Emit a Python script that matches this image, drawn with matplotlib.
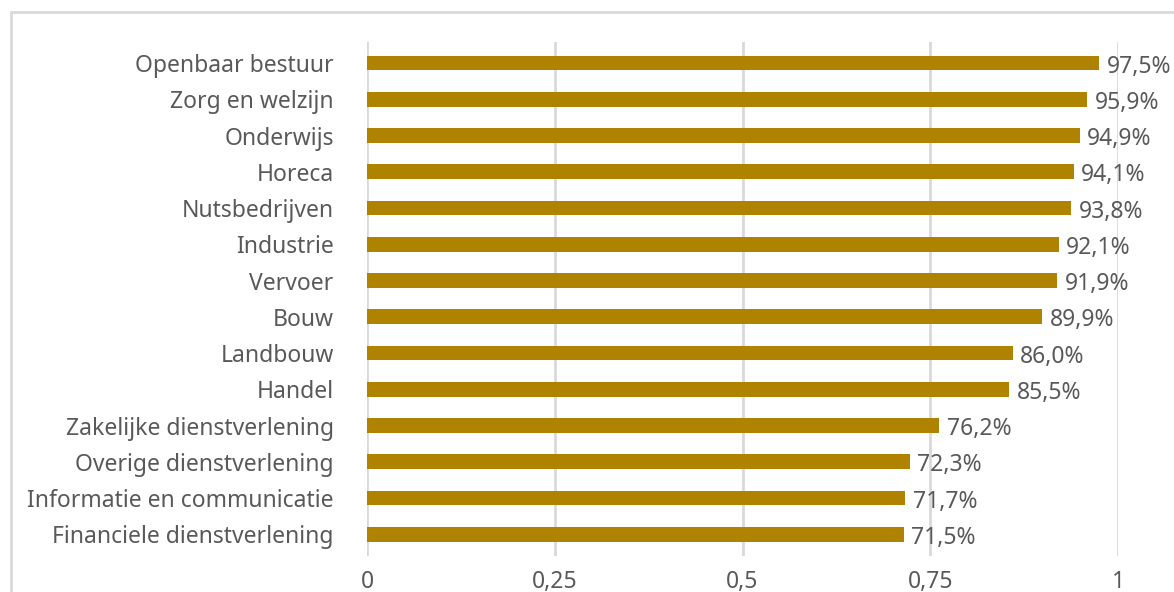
import matplotlib
matplotlib.use("Agg")
import matplotlib.pyplot as plt
from matplotlib.patches import Rectangle

sectors = [
    "Openbaar bestuur", "Zorg en welzijn", "Onderwijs", "Horeca",
    "Nutsbedrijven", "Industrie", "Vervoer", "Bouw", "Landbouw", "Handel",
    "Zakelijke dienstverlening", "Overige dienstverlening",
    "Informatie en communicatie", "Financiele dienstverlening",
]
shares = [97.5, 95.9, 94.9, 94.1, 93.8, 92.1, 91.9, 89.9, 86.0, 85.5,
          76.2, 72.3, 71.7, 71.5]
xticks = [0, 0.25, 0.5, 0.75, 1]
xticklabels = ["0", "0,25", "0,5", "0,75", "1"]

plt.rcParams["font.family"] = ["Noto Sans", "DejaVu Sans"]

bar_color = "#AF8300"
text_color = "#595959"
grid_color = "#D9D9D9"

W, H = 1174, 592
fig = plt.figure(figsize=(W / 100, H / 100), dpi=100)

# light frame around the chart area
fig.patches.append(Rectangle((11 / W, -0.1), 1.2, 1 - 12 / H + 0.1,
                             transform=fig.transFigure, fill=False,
                             edgecolor=grid_color, linewidth=2))

ax = fig.add_axes([367 / W, 1 - 556 / H, (1118 - 367) / W, (556 - 42) / H])

ypos = list(range(len(sectors)))
vals = [v / 100 for v in shares]
ax.barh(ypos, vals, height=0.41, color=bar_color, zorder=3)

for y, v, s in zip(ypos, vals, shares):
    ax.text(v + 0.01, y + 0.1, f"{s:.1f}%".replace(".", ","), va="center",
            ha="left", fontsize=16.5, color=text_color, zorder=4)

ax.set_xlim(0, 1)
ax.set_ylim(len(sectors) - 0.4, -0.58)
ax.set_xticks(xticks)
ax.set_xticklabels(xticklabels)
ax.set_yticks(ypos)
ax.set_yticklabels(sectors)

ax.grid(axis="x", color=grid_color, linewidth=2, zorder=0)
for side in ["top", "right", "bottom", "left"]:
    ax.spines[side].set_visible(False)
ax.tick_params(axis="both", length=0, labelcolor=text_color, labelsize=16.5)
ax.tick_params(axis="y", pad=24)
ax.tick_params(axis="x", pad=10)

fig.savefig("out.png", dpi=100)
